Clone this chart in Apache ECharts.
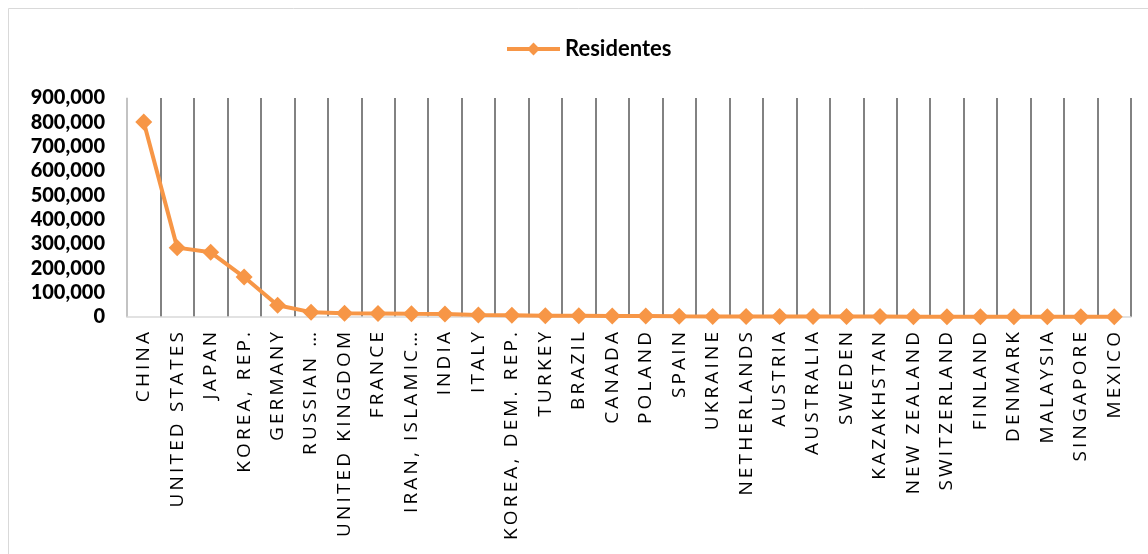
<!DOCTYPE html>
<html>
<head>
<meta charset="utf-8">
<script src="https://cdn.jsdelivr.net/npm/echarts@6/dist/echarts.min.js"></script>
<style>
  html, body { margin: 0; padding: 0; background: #ffffff; }
  #chart { width: 1148px; height: 554px; }
</style>
</head>
<body>
<div id="chart"></div>
<script>
// Patent applications filed by residents, by country of origin
const countries = [
  'CHINA', 'UNITED STATES', 'JAPAN', 'KOREA, REP.', 'GERMANY', 'RUSSIAN …',
  'UNITED KINGDOM', 'FRANCE', 'IRAN, ISLAMIC…', 'INDIA', 'ITALY', 'KOREA, DEM. REP.',
  'TURKEY', 'BRAZIL', 'CANADA', 'POLAND', 'SPAIN', 'UKRAINE', 'NETHERLANDS',
  'AUSTRIA', 'AUSTRALIA', 'SWEDEN', 'KAZAKHSTAN', 'NEW ZEALAND', 'SWITZERLAND',
  'FINLAND', 'DENMARK', 'MALAYSIA', 'SINGAPORE', 'MEXICO'
];
const residentes = [
  801135, 285096, 265959, 164073, 48154, 20000,
  15196, 14500, 13000, 12040, 8700, 7000,
  4800, 4659, 4198, 3941, 2800, 2400, 2200,
  2100, 2000, 1950, 1900, 1500, 1450,
  1350, 1300, 1200, 1150, 1100
];
const yTicks = { min: 0, max: 900000, interval: 100000 };

const ORANGE = '#F79646';

// Spread the letters of the category labels apart
const spaced = s => s.split('').join('\u2009');

const chart = echarts.init(document.getElementById('chart'), null, { renderer: 'canvas' });
chart.setOption({
  animation: false,
  backgroundColor: '#ffffff',
  graphic: [{
    type: 'rect',
    shape: { x: 8.5, y: 8.5, width: 1300, height: 700 },
    style: { fill: 'none', stroke: '#d9d9d9', lineWidth: 1 },
    silent: true
  }],
  legend: {
    data: ['Residentes'],
    top: 33,
    left: 500,
    itemWidth: 53,
    itemHeight: 16,
    itemGap: 6,
    lineStyle: { width: 4 },
    textStyle: { fontFamily: 'Lato', fontWeight: 'bold', fontSize: 22, color: '#000000' }
  },
  grid: { left: 127, right: 17, top: 98, bottom: 237, containLabel: false },
  xAxis: {
    type: 'category',
    data: countries,
    boundaryGap: true,
    axisLine: { show: true, lineStyle: { color: '#d9d9d9', width: 1.5 } },
    axisTick: { show: false },
    splitLine: { show: true, lineStyle: { color: '#595959', width: 1.5 } },
    axisLabel: {
      interval: 0,
      rotate: 90,
      margin: 15,
      fontFamily: 'Open Sans',
      fontSize: 19,
      color: '#000000',
      formatter: v => spaced(v)
    }
  },
  yAxis: {
    type: 'value',
    min: yTicks.min,
    max: yTicks.max,
    interval: yTicks.interval,
    axisLine: { show: true, lineStyle: { color: '#d9d9d9', width: 1.5 } },
    axisTick: { show: false },
    splitLine: { show: false },
    axisLabel: {
      margin: 22,
      fontFamily: 'Lato',
      fontWeight: 900,
      fontSize: 20,
      color: '#000000',
      formatter: v => v.toLocaleString('en-US')
    }
  },
  series: [{
    name: 'Residentes',
    type: 'line',
    data: residentes,
    symbol: 'diamond',
    symbolSize: 17,
    showAllSymbol: true,
    lineStyle: { color: ORANGE, width: 4 },
    itemStyle: { color: ORANGE },
    z: 5
  }]
});
</script>
</body>
</html>
